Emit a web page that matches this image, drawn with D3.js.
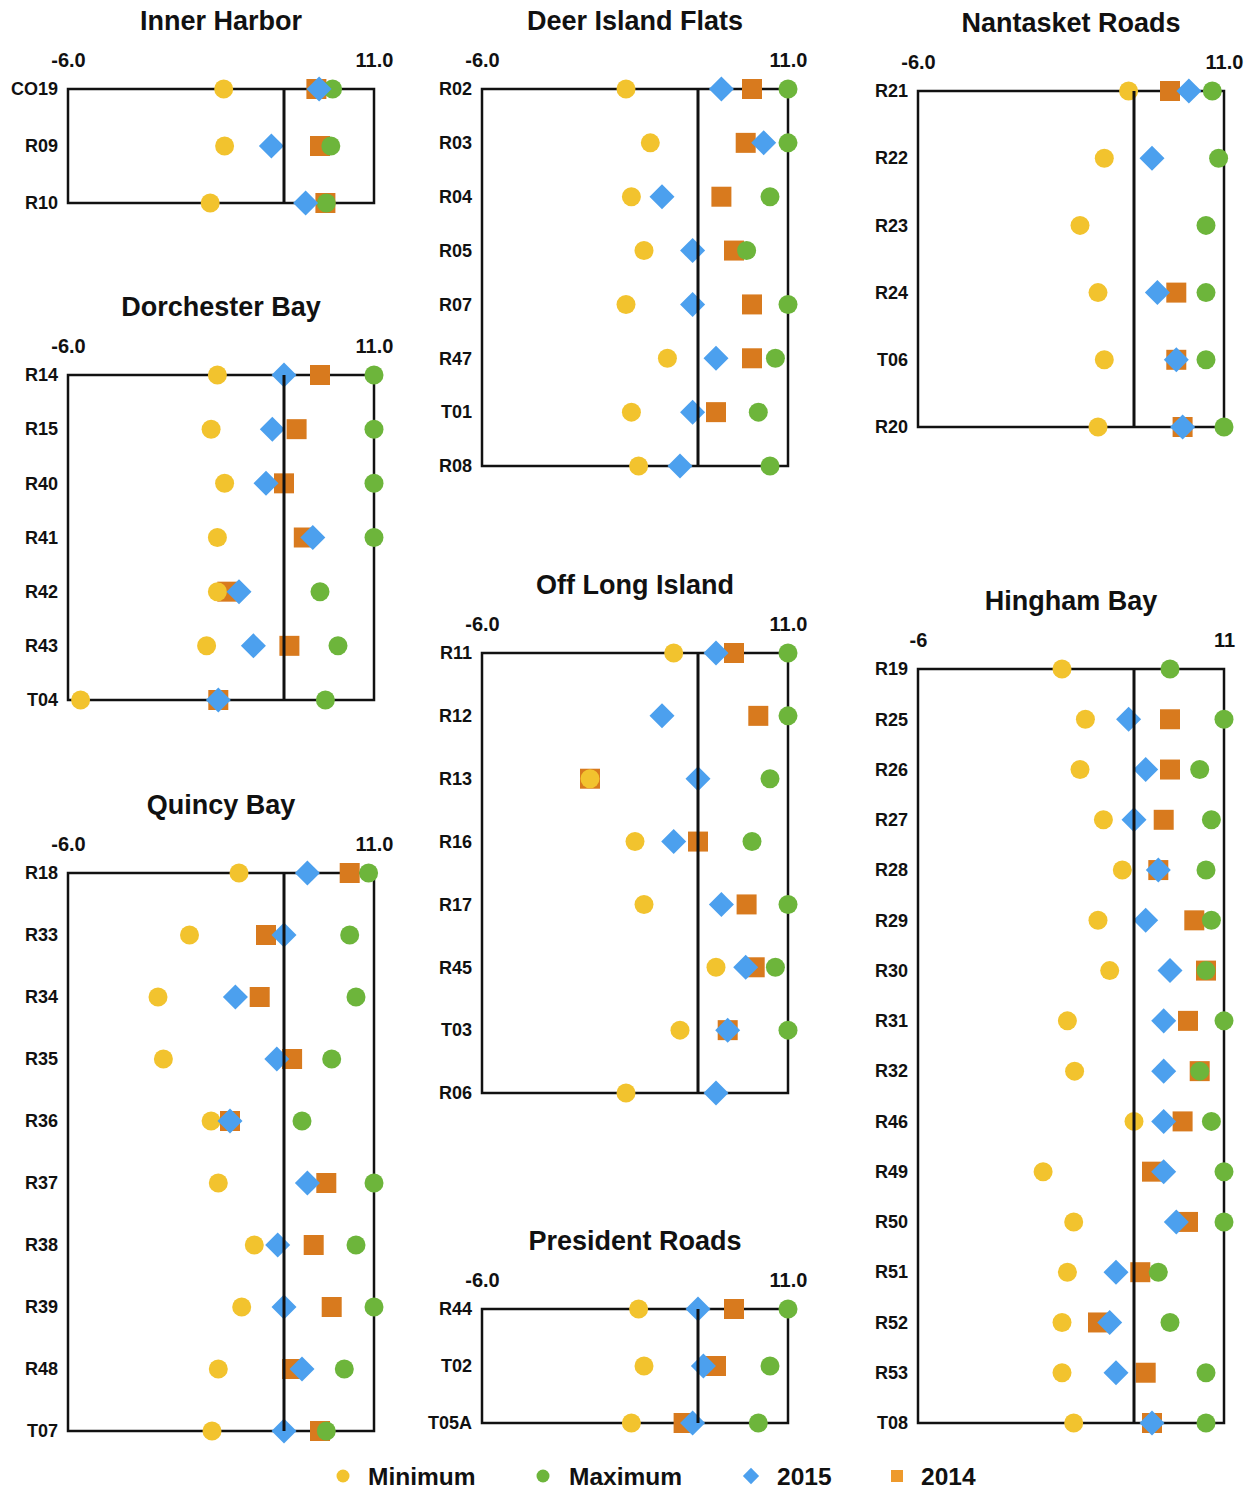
<!DOCTYPE html>
<html>
<head>
<meta charset="utf-8">
<script src="https://cdn.jsdelivr.net/npm/d3@7"></script>
<style>
  body { margin: 0; background: #fff; }
  svg text { font-family: "Liberation Sans", Arial, Helvetica, sans-serif; font-weight: bold; fill: #111; }
</style>
</head>
<body>
<svg id="chart" width="1253" height="1490"></svg>
<script>
// ---- Shared axis settings ----
const xDomain = [-6, 11];
const referenceValue = 6;
const tickLabelsDecimal = ["-6.0", "11.0"];
const tickLabelsInteger = ["-6", "11"];
const seriesNames = ["Minimum", "Maximum", "2015", "2014"];

// ---- Inner Harbor ----
const innerHarborSites = ["CO19", "R09", "R10"];
const innerHarborMin   = [2.65, 2.7, 1.9];
const innerHarborMax   = [8.7, 8.6, 8.35];
const innerHarbor2015  = [7.95, 5.3, 7.2];
const innerHarbor2014  = [7.8, 8.0, 8.3];

// ---- Dorchester Bay ----
const dorchesterSites = ["R14", "R15", "R40", "R41", "R42", "R43", "T04"];
const dorchesterMin   = [2.3, 1.95, 2.7, 2.3, 2.3, 1.7, -5.3];
const dorchesterMax   = [11.0, 11.0, 11.0, 11.0, 8.0, 9.0, 8.3];
const dorchester2015  = [6.0, 5.35, 5.0, 7.6, 3.5, 4.3, 2.35];
const dorchester2014  = [8.0, 6.7, 6.0, 7.1, 2.85, 6.3, 2.35];

// ---- Quincy Bay ----
const quincySites = ["R18", "R33", "R34", "R35", "R36", "R37", "R38", "R39", "R48", "T07"];
const quincyMin   = [3.5, 0.75, -1.0, -0.7, 1.95, 2.35, 4.35, 3.65, 2.35, 2.0];
const quincyMax   = [10.7, 9.65, 10.0, 8.65, 7.0, 11.0, 10.0, 11.0, 9.35, 8.35];
const quincy2015  = [7.3, 6.0, 3.3, 5.6, 3.0, 7.3, 5.65, 6.0, 7.0, 6.0];
const quincy2014  = [9.65, 5.0, 4.65, 6.45, 3.0, 8.35, 7.65, 8.65, 6.45, 8.0];

// ---- Deer Island Flats ----
const deerSites = ["R02", "R03", "R04", "R05", "R07", "R47", "T01", "R08"];
const deerMin   = [2.0, 3.35, 2.3, 3.0, 2.0, 4.3, 2.3, 2.7];
const deerMax   = [11.0, 11.0, 10.0, 8.7, 11.0, 10.3, 9.35, 10.0];
const deer2015  = [7.3, 9.65, 4.0, 5.7, 5.7, 7.0, 5.7, 5.0];
const deer2014  = [9.0, 8.65, 7.3, 8.0, 9.0, 9.0, 7.0, null];

// ---- Off Long Island ----
const longIslandSites = ["R11", "R12", "R13", "R16", "R17", "R45", "T03", "R06"];
const longIslandMin   = [4.65, null, 0.0, 2.5, 3.0, 7.0, 5.0, 2.0];
const longIslandMax   = [11.0, 11.0, 10.0, 9.0, 11.0, 10.3, 11.0, null];
const longIsland2015  = [7.0, 4.0, 6.0, 4.65, 7.3, 8.65, 7.65, 7.0];
const longIsland2014  = [8.0, 9.35, 0.0, 6.0, 8.7, 9.15, 7.65, null];

// ---- President Roads ----
const presidentSites = ["R44", "T02", "T05A"];
const presidentMin   = [2.7, 3.0, 2.3];
const presidentMax   = [11.0, 10.0, 9.35];
const president2015  = [6.0, 6.3, 5.7];
const president2014  = [8.0, 7.0, 5.2];

// ---- Nantasket Roads ----
const nantasketSites = ["R21", "R22", "R23", "R24", "T06", "R20"];
const nantasketMin   = [5.7, 4.35, 3.0, 4.0, 4.35, 4.0];
const nantasketMax   = [10.35, 10.7, 10.0, 10.0, 10.0, 11.0];
const nantasket2015  = [9.05, 7.0, null, 7.3, 8.35, 8.7];
const nantasket2014  = [8.0, null, null, 8.35, 8.35, 8.7];

// ---- Hingham Bay ----
const hinghamSites = ["R19", "R25", "R26", "R27", "R28", "R29", "R30", "R31", "R32", "R46", "R49", "R50", "R51", "R52", "R53", "T08"];
const hinghamMin   = [2.0, 3.3, 3.0, 4.3, 5.35, 4.0, 4.65, 2.3, 2.7, 6.0, 0.95, 2.65, 2.3, 2.0, 2.0, 2.65];
const hinghamMax   = [8.0, 11.0, 9.65, 10.3, 10.0, 10.3, 10.0, 11.0, 9.65, 10.3, 11.0, 11.0, 7.35, 8.0, 10.0, 10.0];
const hingham2015  = [null, 5.7, 6.65, 6.0, 7.35, 6.65, 8.0, 7.65, 7.65, 7.65, 7.65, 8.35, 5.0, 4.65, 5.0, 7.0];
const hingham2014  = [null, 8.0, 8.0, 7.65, 7.35, 9.35, 10.0, 9.0, 9.65, 8.7, 7.0, 9.0, 6.35, 4.0, 6.65, 7.0];

// ---- Styling ----
const colors = { min: "#F2C32E", max: "#6DB53B", y2015: "#4CA0EE", y2014: "#D87A1E" };
const legendColors = { min: "#F2C32E", max: "#6DB53B", y2015: "#4CA0EE", y2014: "#EE9A2C" };

// ---- Panel layout (frame edges and first/last row centres) ----
const panels = [
  { title: "Inner Harbor", sites: innerHarborSites, min: innerHarborMin, max: innerHarborMax, y15: innerHarbor2015, y14: innerHarbor2014, ticks: tickLabelsDecimal, left: 68, right: 374, top: 89, bottom: 203 },
  { title: "Dorchester Bay", sites: dorchesterSites, min: dorchesterMin, max: dorchesterMax, y15: dorchester2015, y14: dorchester2014, ticks: tickLabelsDecimal, left: 68, right: 374, top: 375, bottom: 700 },
  { title: "Quincy Bay", sites: quincySites, min: quincyMin, max: quincyMax, y15: quincy2015, y14: quincy2014, ticks: tickLabelsDecimal, left: 68, right: 374, top: 873, bottom: 1431 },
  { title: "Deer Island Flats", sites: deerSites, min: deerMin, max: deerMax, y15: deer2015, y14: deer2014, ticks: tickLabelsDecimal, left: 482, right: 788, top: 89, bottom: 466 },
  { title: "Off Long Island", sites: longIslandSites, min: longIslandMin, max: longIslandMax, y15: longIsland2015, y14: longIsland2014, ticks: tickLabelsDecimal, left: 482, right: 788, top: 653, bottom: 1093 },
  { title: "President Roads", sites: presidentSites, min: presidentMin, max: presidentMax, y15: president2015, y14: president2014, ticks: tickLabelsDecimal, left: 482, right: 788, top: 1309, bottom: 1423 },
  { title: "Nantasket Roads", sites: nantasketSites, min: nantasketMin, max: nantasketMax, y15: nantasket2015, y14: nantasket2014, ticks: tickLabelsDecimal, left: 918, right: 1224, top: 91, bottom: 427 },
  { title: "Hingham Bay", sites: hinghamSites, min: hinghamMin, max: hinghamMax, y15: hingham2015, y14: hingham2014, ticks: tickLabelsInteger, left: 918, right: 1224, top: 669, bottom: 1423 }
];

const svg = d3.select("#chart");

const circleSym  = d3.symbol().type(d3.symbolCircle).size(Math.PI * 9.5 * 9.5);
const squareSym  = d3.symbol().type(d3.symbolSquare).size(20 * 20);
const diamondSym = d3.symbol().type(d3.symbolSquare).size(17.7 * 17.7);

panels.forEach(p => {
  const g = svg.append("g");
  const x = d3.scaleLinear().domain(xDomain).range([p.left, p.right]);
  const y = d3.scalePoint().domain(p.sites).range([p.top, p.bottom]).padding(0);

  // title
  g.append("text")
    .attr("x", (p.left + p.right) / 2)
    .attr("y", p.top - 59)
    .attr("text-anchor", "middle")
    .style("font-size", "27px")
    .text(p.title);

  // end-point tick labels along the top
  const xAxis = d3.axisTop(x)
    .tickValues(xDomain)
    .tickFormat((d, i) => p.ticks[i])
    .tickSize(0)
    .tickPadding(0);
  const ax = g.append("g").attr("transform", `translate(0,${p.top - 22})`).call(xAxis);
  ax.select(".domain").remove();
  ax.selectAll("text").style("font-size", "20px").attr("dy", "0");

  // site labels
  const yAxis = d3.axisLeft(y).tickSize(0).tickPadding(10);
  const ay = g.append("g").attr("transform", `translate(${p.left},0)`).call(yAxis);
  ay.select(".domain").remove();
  ay.selectAll("text").style("font-size", "18px");

  // frame
  g.append("rect")
    .attr("x", x(xDomain[0])).attr("y", y(p.sites[0]))
    .attr("width", x(xDomain[1]) - x(xDomain[0]))
    .attr("height", y(p.sites[p.sites.length - 1]) - y(p.sites[0]))
    .attr("fill", "none").attr("stroke", "#111").attr("stroke-width", 2.5);

  const rows = p.sites.map((s, i) => ({ site: s, min: p.min[i], max: p.max[i], y15: p.y15[i], y14: p.y14[i] }));

  // 2014 squares
  g.selectAll(".s14").data(rows.filter(r => r.y14 != null)).join("path")
    .attr("d", squareSym)
    .attr("transform", r => `translate(${x(r.y14)},${y(r.site)})`)
    .attr("fill", colors.y2014);

  // minimum circles
  g.selectAll(".smin").data(rows.filter(r => r.min != null)).join("path")
    .attr("d", circleSym)
    .attr("transform", r => `translate(${x(r.min)},${y(r.site)})`)
    .attr("fill", colors.min);

  // maximum circles
  g.selectAll(".smax").data(rows.filter(r => r.max != null)).join("path")
    .attr("d", circleSym)
    .attr("transform", r => `translate(${x(r.max)},${y(r.site)})`)
    .attr("fill", colors.max);

  // 2015 diamonds
  g.selectAll(".s15").data(rows.filter(r => r.y15 != null)).join("path")
    .attr("d", diamondSym)
    .attr("transform", r => `translate(${x(r.y15)},${y(r.site)}) rotate(45)`)
    .attr("fill", colors.y2015);

  // reference line
  g.append("line")
    .attr("x1", x(referenceValue)).attr("x2", x(referenceValue))
    .attr("y1", y(p.sites[0])).attr("y2", y(p.sites[p.sites.length - 1]))
    .attr("stroke", "#111").attr("stroke-width", 3);
});

// ---- Legend ----
const legendItems = [
  { name: seriesNames[0], sym: d3.symbol().type(d3.symbolCircle).size(Math.PI * 6.5 * 6.5), color: legendColors.min, rot: 0, mx: 343, tx: 368 },
  { name: seriesNames[1], sym: d3.symbol().type(d3.symbolCircle).size(Math.PI * 6.5 * 6.5), color: legendColors.max, rot: 0, mx: 543, tx: 569 },
  { name: seriesNames[2], sym: d3.symbol().type(d3.symbolSquare).size(11.5 * 11.5), color: legendColors.y2015, rot: 45, mx: 751, tx: 777 },
  { name: seriesNames[3], sym: d3.symbol().type(d3.symbolSquare).size(12 * 12), color: legendColors.y2014, rot: 0, mx: 897, tx: 921 }
];
const lg = svg.append("g").attr("transform", "translate(0,1476)");
legendItems.forEach(it => {
  lg.append("path").attr("d", it.sym)
    .attr("transform", `translate(${it.mx},0) rotate(${it.rot})`)
    .attr("fill", it.color);
  lg.append("text").attr("x", it.tx).attr("y", 8.5)
    .style("font-size", "24.5px").text(it.name);
});
</script>
</body>
</html>
